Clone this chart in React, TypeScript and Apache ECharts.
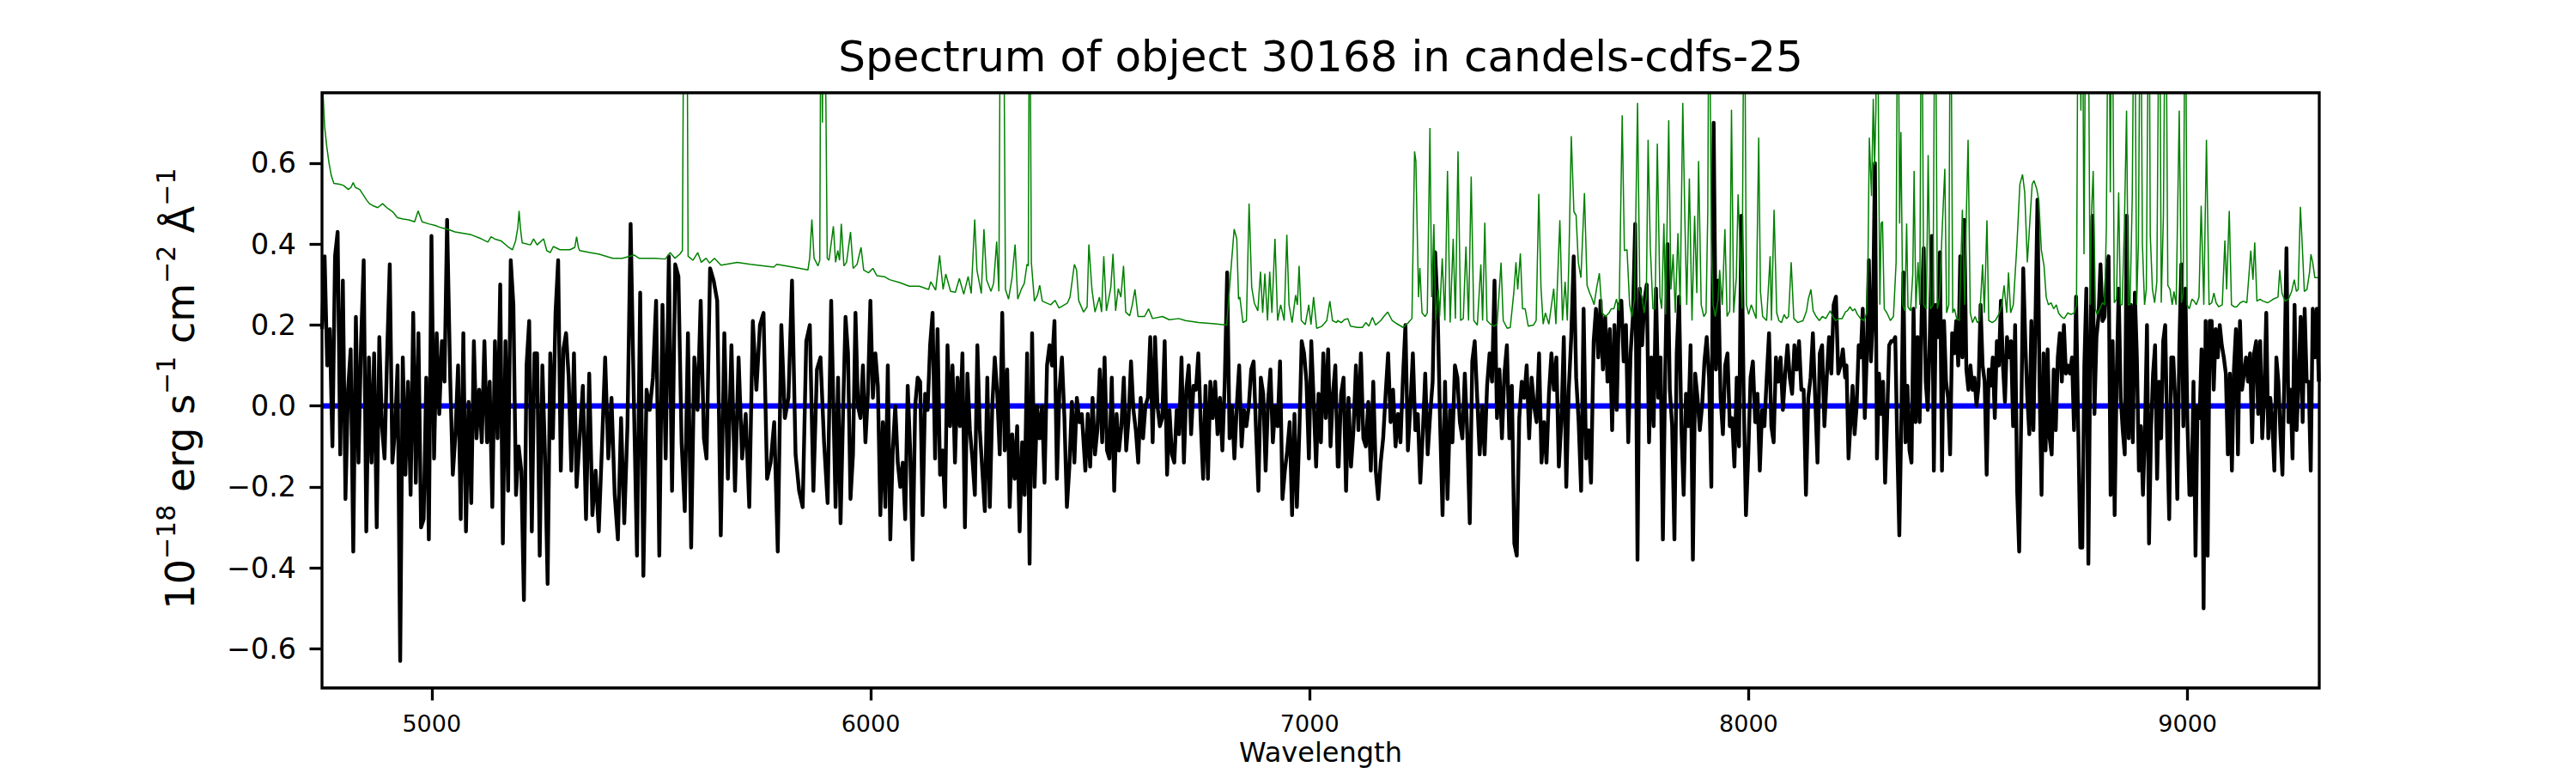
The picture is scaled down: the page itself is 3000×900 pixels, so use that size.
import React, { useEffect, useRef } from 'react';
import * as echarts from 'echarts';

const TITLE = 'Spectrum of object 30168 in candels-cdfs-25';
const X_LABEL = 'Wavelength';
const X_MIN = 4750;
const X_MAX = 9300;
const Y_MIN = -0.697;
const Y_MAX = 0.774;
const X_TICKS = [5000, 6000, 7000, 8000, 9000];
const Y_TICKS = [-0.6, -0.4, -0.2, 0, 0.2, 0.4, 0.6];

// Observed flux (black), read piecewise; each chunk spans [start, end] in Angstrom
const fluxA1 = [0.19,0.37,0.10,0.19,-0.10,0.37,0.43,-0.12,0.31,-0.23,0.04,0.14,-0.36,0.22,-0.14,0.16,0.36,-0.31,0.12,-0.14,0.13,-0.30,0.17,-0.05,-0.13,0.13,0.35,-0.14,-0.06,0.10,-0.63,0.12,-0.17,0.06,-0.22,0.23,-0.19,0.18,-0.30,-0.28,0.07,-0.33,0.42,-0.13,0.18,-0.02,0.16,0.06,0.46];
const fluxA2 = [0.07,-0.17,-0.07,0.10,-0.28,0.18,-0.31,0.01,-0.24,0.16,-0.08,0.04,-0.09,0.16,-0.09,0.06,-0.25,0.16,-0.08,0.30,-0.34,0.16,-0.21,0.36,0.25,-0.22,-0.10,-0.16,-0.48,0.10,0.21,-0.31,0.13,0.13,-0.37,0.10,-0.12,-0.44,0.13,-0.08,0.23,0.36,-0.16,0.14,0.18,0.07,-0.16,0.13,-0.20];
const fluxA3 = [-0.08,0.05,-0.28,0.08,-0.27,-0.16,-0.31,-0.10,0.12,-0.13,0.02,-0.22,-0.33,-0.03,-0.29,-0.05,0.45,0.02,-0.37,0.28,-0.42,0.04,-0.01,0.07,0.26,-0.37,0.25,-0.13,0.37,-0.21,0.35,0.32,-0.09,-0.26,0.18,-0.35,0.12,-0.01,0.26,-0.08];
const fluxA4 = [-0.13,0.34,0.31,0.26,-0.32,0.18,-0.18,0.15,-0.21,0.12,-0.13,-0.02,-0.25,0.21,0.04,0.20,0.23,-0.18,-0.14,-0.04,-0.36,0.20,-0.03,0.02,0.31,-0.12,-0.21,-0.25,0.16,0.20,-0.21,0.09,0.12,-0.09,-0.24,0.26];
const fluxB1 = [-0.25,0.07,-0.29,-0.02,0.22,0.13,-0.23,-0.12,0.23,0.00,-0.03,0.10,-0.09,0.03,0.26,0.02,0.13,0.05,-0.27,-0.04,-0.25,0.10,-0.33,-0.11,0.00,-0.14,-0.20,-0.14,-0.28,0.05,-0.11,-0.38,0.00,0.07,0.06,-0.27,0.03,-0.01,0.15,0.23,-0.13,0.19,-0.17,-0.11,-0.25,0.15,-0.05,0.10,-0.14,0.07,-0.05,0.13,-0.30,0.08,-0.06,-0.13,-0.22,0.15,-0.06,-0.16,-0.26,0.07,-0.25,0.00,0.12,0.03,-0.12,0.23,-0.11,0.09,-0.25,-0.07,-0.18,-0.05,-0.31,-0.09,-0.22,0.13,-0.39,0.18,-0.20,0.00,-0.08,0.00,-0.19,0.10,0.15,0.10,0.21,-0.18,0.04,0.12,-0.03,-0.25,-0.15,0.01,-0.14,0.02,-0.04,-0.02];
const fluxB2 = [-0.16,-0.02,-0.15,0.02,-0.12,-0.06,0.09,-0.09,0.12,-0.11,-0.13,0.07,-0.21,-0.02,-0.11,-0.05,0.07,-0.11,-0.03,0.11,-0.01,-0.06,-0.14,0.02,-0.08,0.00,0.02,0.17,-0.09,0.17,0.00,-0.05,-0.03,0.16,-0.17,-0.01,-0.12,-0.14,-0.01,-0.07,0.12,-0.14,0.04,0.10,-0.07,0.05,0.04,0.13,-0.04,-0.18,0.05,-0.18,0.06,-0.03,0.06,-0.07,0.02,-0.11,0.06,0.33,-0.08,0.00,-0.13,0.00,0.10,-0.10,-0.01,-0.05,0.00,0.09,0.11,-0.06,-0.21,0.07,0.03,-0.16,0.01,0.09,-0.09,0.00,-0.05,0.11,-0.23,-0.16,-0.11,-0.04,-0.27,-0.02,-0.25,-0.07,0.16,0.13,0.06,-0.13,0.16,0.01,-0.15,0.03,-0.09,0.13,-0.03,0.14,-0.10,0.03,0.10,-0.15];
const fluxC1 = [-0.15,0.03,0.07,-0.21,0.02,-0.15,-0.06,0.10,-0.06,0.13,-0.08,-0.10,0.01,-0.16,0.06,-0.16,-0.23,-0.14,-0.08,0.03,0.13,-0.04,0.04,-0.10,-0.02,-0.09,0.07,0.20,-0.11,0.00,0.13,-0.06,-0.02,-0.19,-0.07,0.08,-0.12,-0.02,0.06,0.38,0.24,-0.04,-0.27,0.06,-0.23,-0.01,-0.09,0.10,0.07,-0.04,-0.08,0.08,-0.07,-0.29,0.11,0.16,0.02,-0.12,0.00,-0.12,0.05,0.13,0.06,0.31,-0.03,0.09,-0.08,0.08,0.15,-0.08,0.05,-0.34,-0.37,-0.03,0.06,0.02,0.10,-0.08,0.07,0.00,-0.04,0.13,-0.14,-0.04,-0.14,0.03,0.13,0.04,0.12,-0.15,-0.04,0.17,-0.20,0.04,0.17,0.37,0.07,-0.04,-0.21,0.24,-0.13,-0.06,-0.19];
const fluxC2 = [0.16,0.24,0.12,0.26,0.09,0.22,0.06,0.19,-0.06,0.20,-0.01,0.25,0.26,0.11,0.20,-0.09,0.13,0.22,0.45,-0.38,0.29,0.15,0.26,0.30,-0.09,0.12,-0.05,0.29,0.02,0.12,-0.33,0.08,0.40,0.04,-0.05,-0.33,0.13,0.27,-0.05,-0.22,0.03,-0.05,0.15,-0.38,0.08,0.02,-0.06,0.00,0.11,0.17,0.07,-0.20,0.70,0.09,0.31,0.02,-0.07,0.10,0.13,-0.05,-0.03,-0.15,0.07,-0.10,0.47,0.03,-0.27,-0.12,0.07,0.11,-0.04,0.03,-0.16,-0.01,-0.05,0.07,0.18,-0.05,-0.09,0.12,0.06,0.12,-0.01,0.08,0.15,0.07,0.03,0.15,0.09,0.16,0.04,0.04,-0.22,0.02,0.07,0.18,0.02,-0.14,0.13,0.15,-0.05,0.07,0.17,0.08,0.25,0.27,0.08,0.10,0.14,0.07];
const fluxD1 = [0.10,-0.13,-0.04,0.05,-0.07,0.00,0.15,0.12,0.24,-0.03,0.13,0.36,0.11,0.22,0.60,-0.13,0.08,-0.02,0.06,-0.19,-0.03,0.15,0.16,0.16,0.17,-0.10,-0.32,-0.03,0.33,-0.09,0.05,-0.11,-0.14,0.24,-0.04,0.17,-0.04,0.23,0.39,0.06,-0.01,0.17,0.42,-0.16,0.25,0.17,0.38,-0.16,0.21,0.06,0.02,-0.12,0.18,0.13,0.21,0.10,0.37,0.12,0.46,0.09,0.04,0.10,0.04,0.07,0.00,0.05,0.25,0.10,0.06,-0.17,0.09,0.05,0.12,-0.03,0.16,0.10,0.26,0.10,0.01,0.17,0.12,0.16,-0.05,0.20,-0.21,-0.36,-0.03,0.34,0.16,0.02,-0.07,0.21,-0.06,0.21,0.51,0.06,-0.22,0.13,-0.11,0.14,-0.08,-0.12,0.09,-0.06,0.12,0.18,0.06,0.20,0.08,0.10,0.08,0.12,-0.06,0.27];
const fluxD2 = [-0.06,-0.35,-0.35,0.10,0.29,-0.39,0.16,0.47,-0.02,0.17,0.22,0.35,0.21,0.22,0.32,0.37,-0.22,0.16,-0.27,0.07,0.29,0.02,-0.06,-0.12,0.47,-0.08,0.25,-0.09,0.28,0.12,-0.16,-0.05,-0.22,-0.06,0.20,-0.34,-0.06,0.08,0.15,-0.18,0.06,-0.08,0.16,0.20,-0.07,-0.28,0.12,0.12,0.01,-0.23,0.15,0.35,-0.05,0.29,-0.04,-0.22,-0.22,0.06,-0.37,0.00,-0.03,0.14,-0.50,0.21,-0.37,0.21,0.21,0.04,0.19,0.12,0.20,0.15,0.12,0.08,-0.12,0.08,-0.16,0.09,0.19,-0.12,0.21,0.04,0.08,0.12,0.06,0.13,-0.09,0.13,0.16,-0.02,0.16,-0.08,0.02,0.23,-0.08,0.02,-0.04,-0.16,0.12,0.06,-0.07,-0.17,0.09,0.39,-0.04,0.04,-0.13,0.25,-0.06,0.06,0.22,-0.04,0.24,0.06,0.06,-0.16,0.24,0.12,0.24,0.06];

const fluxChunks: [number, number, number[]][] = [
  [4750, 5035, fluxA1],
  [5042, 5330, fluxA2],
  [5337, 5620, fluxA3],
  [5626, 5910, fluxA4],
  [5920, 6481, fluxB1],
  [6489, 7064, fluxB2],
  [7066, 7641, fluxC1],
  [7647, 8220, fluxC2],
  [8223, 8746, fluxD1],
  [8751, 9299, fluxD2],
];

// Sky / noise spectrum (green): [wavelength, value]
const skyA = [[4750,0.95],[4752.5,0.77],[4756,0.69],[4761,0.64],[4766,0.60],[4771,0.57],[4777,0.55],[4790,0.548],[4799,0.545],[4810,0.535],[4816,0.54],[4821,0.552],[4826,0.54],[4836,0.535],[4851,0.51],[4858,0.50],[4866,0.495],[4877,0.49],[4888,0.50],[4900,0.488],[4911,0.48],[4922,0.465],[4935,0.462],[4948,0.46],[4961,0.455],[4969,0.482],[4978,0.455],[4993,0.45],[5008,0.446],[5023,0.44],[5038,0.436],[5053,0.43],[5070,0.427],[5090,0.423],[5113,0.413],[5128,0.405],[5135,0.418],[5145,0.412],[5158,0.408],[5173,0.394],[5184,0.386],[5191,0.408],[5196,0.44],[5199,0.482],[5202,0.44],[5206,0.403],[5225,0.398],[5232,0.413],[5240,0.398],[5255,0.413],[5262,0.384],[5270,0.379],[5277,0.394],[5292,0.386],[5315,0.386],[5326,0.392],[5330,0.418],[5334,0.392],[5337,0.384],[5360,0.379],[5382,0.375],[5412,0.365],[5434,0.365],[5461,0.373],[5472,0.365],[5509,0.365],[5532,0.363],[5543,0.379],[5554,0.365],[5565,0.375],[5571,0.384],[5575,1.2],[5581,1.2],[5584,0.370],[5595,0.36],[5606,0.379],[5614,0.355],[5625,0.365],[5633,0.353],[5644,0.365],[5659,0.348],[5696,0.355],[5726,0.35],[5779,0.343],[5786,0.35],[5823,0.343],[5857,0.336],[5861,0.365],[5866,0.461],[5871,0.365],[5880,0.346],[5884,0.36],[5887,1.2],[5890,0.70],[5893,1.2],[5898,0.74],[5901,0.365]];
const skyB = [[5905,0.36],[5915,0.444],[5920,0.355],[5925,0.384],[5929,0.36],[5933,0.45],[5939,0.346],[5945,0.355],[5954,0.43],[5960,0.34],[5969,0.35],[5978,0.392],[5984,0.336],[5995,0.329],[6005,0.34],[6014,0.322],[6032,0.319],[6043,0.312],[6066,0.305],[6088,0.296],[6111,0.296],[6132,0.288],[6137,0.307],[6148,0.286],[6157,0.372],[6165,0.288],[6171,0.326],[6182,0.283],[6193,0.281],[6202,0.315],[6212,0.276],[6222,0.32],[6229,0.278],[6237,0.461],[6242,0.336],[6252,0.278],[6258,0.437],[6264,0.312],[6274,0.283],[6280,0.303],[6287,0.406],[6292,0.283],[6296,1.2],[6302,1.2],[6307,0.288],[6314,0.264],[6322,0.317],[6329,0.399],[6335,0.264],[6343,0.288],[6350,0.303],[6356,0.35],[6359,0.346],[6362,1.2],[6366,0.355],[6373,0.259],[6380,0.274],[6385,0.298],[6391,0.259],[6410,0.25],[6420,0.261],[6429,0.242],[6448,0.254],[6454,0.269],[6464,0.35],[6469,0.336],[6474,0.26],[6485,0.232],[6493,0.245],[6497,0.399],[6504,0.288],[6511,0.232],[6521,0.269],[6526,0.232],[6531,0.37],[6537,0.235],[6543,0.269],[6547,0.293],[6552,0.376],[6558,0.235],[6564,0.29],[6570,0.269],[6576,0.346],[6581,0.232],[6590,0.223],[6596,0.25],[6602,0.288],[6609,0.221],[6624,0.221],[6633,0.24],[6642,0.216],[6665,0.221],[6680,0.213],[6702,0.216],[6717,0.211],[6747,0.206],[6784,0.203],[6811,0.2],[6822,0.355],[6828,0.437],[6834,0.413],[6838,0.264],[6841,0.269],[6848,0.206],[6856,0.211],[6862,0.50],[6868,0.293],[6874,0.254],[6882,0.235],[6888,0.332],[6893,0.23],[6898,0.327],[6904,0.211],[6909,0.332],[6914,0.23],[6921,0.413],[6927,0.211],[6934,0.25],[6942,0.211],[6948,0.423],[6953,0.25],[6960,0.206],[6968,0.274],[6972,0.25],[6976,0.346],[6981,0.211],[6990,0.201],[6998,0.25],[7003,0.201],[7009,0.269],[7016,0.192],[7028,0.197],[7039,0.211],[7046,0.259],[7052,0.211],[7061,0.206]];
const skyC = [[7064,0.211],[7072,0.206],[7079,0.213],[7087,0.216],[7093,0.197],[7109,0.194],[7120,0.194],[7128,0.206],[7135,0.197],[7143,0.219],[7150,0.2],[7162,0.211],[7169,0.221],[7178,0.232],[7188,0.211],[7199,0.203],[7213,0.194],[7225,0.206],[7233,0.216],[7239,0.629],[7242,0.605],[7248,0.269],[7251,0.341],[7256,0.23],[7263,0.221],[7268,0.23],[7274,0.687],[7278,0.269],[7283,0.449],[7287,0.211],[7293,0.288],[7296,0.221],[7302,0.365],[7308,0.211],[7314,0.581],[7320,0.206],[7327,0.413],[7332,0.216],[7338,0.629],[7344,0.211],[7350,0.216],[7356,0.394],[7362,0.211],[7368,0.567],[7374,0.211],[7382,0.2],[7390,0.35],[7394,0.211],[7399,0.453],[7404,0.211],[7412,0.202],[7420,0.197],[7427,0.202],[7436,0.354],[7441,0.211],[7450,0.192],[7457,0.194],[7465,0.279],[7470,0.355],[7474,0.288],[7480,0.377],[7485,0.24],[7491,0.24],[7498,0.197],[7510,0.2],[7516,0.211],[7522,0.524],[7527,0.293],[7532,0.202],[7537,0.23],[7545,0.202],[7556,0.29],[7561,0.202],[7570,0.459],[7576,0.211],[7582,0.307],[7587,0.211],[7591,0.384],[7596,0.667],[7602,0.48],[7607,0.471],[7612,0.355],[7618,0.317],[7626,0.526],[7632,0.298],[7638,0.279],[7642,0.269],[7648,0.25],[7654,0.293],[7660,0.328],[7666,0.23],[7674,0.221],[7682,0.23],[7687,0.24],[7693,0.24],[7699,0.264],[7705,0.235],[7712,0.718],[7717,0.384],[7723,0.386],[7729,0.25],[7734,0.221],[7740,0.264],[7747,0.749],[7752,0.288],[7757,0.269],[7762,0.23],[7767,0.269],[7771,0.658],[7776,0.394],[7782,0.24],[7787,0.24],[7792,0.648],[7798,0.269],[7802,0.24],[7807,0.451],[7811,0.226],[7818,0.706],[7823,0.288],[7828,0.375],[7833,0.23],[7839,0.427],[7844,0.25],[7850,0.749],[7855,0.451],[7859,0.25],[7865,0.562],[7871,0.211],[7877,0.47],[7882,0.279],[7886,0.605],[7892,0.25],[7898,0.221],[7903,0.23],[7907,0.48],[7910,1.2],[7915,0.413],[7919,0.25],[7924,0.221],[7930,0.259],[7934,0.336],[7940,0.25],[7946,0.437],[7951,0.221],[7957,0.235],[7961,0.732],[7966,0.23],[7972,0.317],[7976,0.523],[7981,0.375],[7985,0.24],[7990,1.2],[7995,0.25],[8000,0.226],[8006,0.25],[8011,0.235],[8017,0.216],[8023,0.663],[8027,0.283],[8032,0.221],[8041,0.211],[8049,0.37],[8052,0.211],[8058,0.485],[8064,0.23],[8069,0.211],[8075,0.206],[8081,0.226],[8086,0.216],[8091,0.221],[8097,0.355],[8103,0.216],[8112,0.206],[8124,0.211],[8132,0.235],[8136,0.264],[8142,0.288],[8147,0.235],[8154,0.221],[8161,0.211],[8168,0.221],[8176,0.216],[8181,0.226],[8186,0.235],[8191,0.223],[8198,0.211],[8206,0.216],[8213,0.216],[8221,0.233]];
const skyD = [[8225,0.235],[8231,0.245],[8237,0.235],[8242,0.24],[8248,0.226],[8255,0.216],[8263,0.211],[8269,0.23],[8272,0.365],[8275,0.663],[8280,0.519],[8284,0.759],[8287,0.596],[8290,0.73],[8293,1.2],[8296,0.672],[8299,0.25],[8302,0.451],[8305,0.456],[8309,0.24],[8315,0.23],[8323,0.211],[8330,0.221],[8336,0.355],[8340,1.2],[8344,0.451],[8347,0.677],[8351,0.25],[8356,0.235],[8360,0.451],[8363,0.245],[8369,0.235],[8374,0.326],[8377,0.581],[8381,0.24],[8386,0.355],[8390,0.25],[8394,1.2],[8399,0.25],[8405,0.24],[8409,0.62],[8414,0.24],[8420,0.25],[8425,1.2],[8430,0.24],[8435,0.269],[8441,0.437],[8447,0.586],[8451,0.23],[8456,0.25],[8460,1.2],[8465,0.23],[8469,0.24],[8474,0.216],[8480,0.211],[8487,0.485],[8492,0.25],[8496,0.47],[8500,0.658],[8505,0.23],[8510,0.206],[8516,0.221],[8521,0.206],[8526,0.211],[8533,0.35],[8537,0.23],[8543,0.459],[8547,0.211],[8555,0.206],[8562,0.211],[8570,0.226],[8577,0.25],[8582,0.298],[8588,0.23],[8592,0.33],[8597,0.23],[8603,0.25],[8611,0.394],[8618,0.548],[8624,0.572],[8629,0.528],[8635,0.355],[8641,0.461],[8646,0.548],[8650,0.557],[8656,0.538],[8661,0.509],[8667,0.384],[8673,0.346],[8678,0.269],[8683,0.25],[8689,0.255],[8695,0.24],[8701,0.25],[8706,0.23],[8712,0.221],[8719,0.216],[8727,0.23],[8734,0.226],[8742,0.23],[8747,0.25],[8751,1.2],[8757,0.73],[8760,1.2],[8764,0.375],[8769,1.2],[8773,1.2],[8778,0.25],[8781,0.471],[8785,0.581],[8790,0.24],[8794,0.226],[8800,0.24],[8806,0.255],[8811,0.25],[8815,0.442],[8820,1.2],[8824,0.528],[8828,1.2],[8833,0.255],[8838,0.264],[8843,0.528],[8847,0.25],[8851,0.25],[8856,0.442],[8861,0.73],[8865,0.25],[8869,0.25],[8874,0.519],[8879,1.2],[8884,0.25],[8888,0.403],[8893,1.2],[8897,0.403],[8902,0.25],[8906,0.288],[8912,1.2],[8915,0.423],[8920,0.288],[8925,0.255],[8930,0.307],[8936,1.2],[8940,0.255],[8945,0.471],[8950,1.2],[8955,0.298],[8960,0.288],[8965,0.25],[8969,0.283],[8974,0.25],[8981,0.73],[8986,0.255],[8990,0.279],[8995,1.2],[8999,0.25],[9004,0.24],[9010,0.264],[9015,0.259],[9020,0.25],[9026,0.269],[9031,0.495],[9037,0.25],[9043,0.658],[9049,0.25],[9055,0.255],[9060,0.279],[9065,0.255],[9071,0.245],[9079,0.25],[9085,0.409],[9089,0.288],[9095,0.482],[9100,0.25],[9106,0.245],[9112,0.245],[9120,0.255],[9127,0.259],[9135,0.255],[9140,0.326],[9144,0.384],[9149,0.312],[9153,0.404],[9158,0.259],[9165,0.264],[9172,0.259],[9183,0.255],[9195,0.264],[9206,0.269],[9210,0.336],[9215,0.279],[9222,0.259],[9230,0.264],[9237,0.283],[9243,0.312],[9248,0.283],[9252,0.288],[9257,0.492],[9261,0.403],[9266,0.283],[9272,0.288],[9278,0.331],[9281,0.375],[9285,0.355],[9290,0.317],[9300,0.317]];

// Model / zero level (blue)
const modelWave = [4750, 9300];
const modelFlux = [0, 0];

const FONT = 'DejaVu Sans';

function buildFlux(): number[][] {
  const out: number[][] = [];
  for (const [start, end, vals] of fluxChunks) {
    const n = vals.length;
    const step = (end - start) / (n - 1);
    vals.forEach((v, i) => out.push([start + i * step, v]));
  }
  return out;
}

function fmtY(v: number): string {
  const s = Math.abs(v).toFixed(1);
  return v < -1e-9 ? '\u2212' + s : s;
}

export default function App() {
  const ref = useRef<HTMLDivElement>(null);
  useEffect(() => {
    document.body.style.margin = '0';
    if (!ref.current) return;
    const chart = echarts.init(ref.current, null, { renderer: 'svg' });
    const gridL = 375, gridT = 108, gridW = 2326, gridH = 693;
    const option: any = {
      animation: false,
      backgroundColor: '#ffffff',
      grid: { left: gridL, top: gridT, width: gridW, height: gridH, show: false },
      xAxis: {
        type: 'value', min: X_MIN, max: X_MAX,
        axisLine: { show: false, onZero: false },
        splitLine: { show: false },
        axisTick: { show: true, customValues: X_TICKS, length: 14.5, lineStyle: { color: '#000', width: 3.3 } },
        axisLabel: { customValues: X_TICKS, margin: 28, fontSize: 27, color: '#000', fontFamily: FONT, formatter: (v: number) => String(v) },
      },
      yAxis: {
        type: 'value', min: Y_MIN, max: Y_MAX,
        axisLine: { show: false, onZero: false },
        splitLine: { show: false },
        axisTick: { show: true, customValues: Y_TICKS, length: 14.5, lineStyle: { color: '#000', width: 3.3 } },
        axisLabel: { customValues: Y_TICKS, margin: 30, fontSize: 33.3, color: '#000', fontFamily: FONT, formatter: (v: number) => fmtY(v) },
      },
      series: [
        {
          type: 'line', name: 'model', showSymbol: false, symbol: 'none',
          data: modelWave.map((w, i) => [w, modelFlux[i]]),
          lineStyle: { color: '#0000ff', width: 6.25 }, itemStyle: { color: '#0000ff' },
        },
        {
          type: 'line', name: 'flux', showSymbol: false, symbol: 'none',
          data: buildFlux(),
          lineStyle: { color: '#000000', width: 4.4, join: 'round' }, itemStyle: { color: '#000' },
        },
        {
          type: 'line', name: 'sky', showSymbol: false, symbol: 'none',
          data: [...skyA, ...skyB, ...skyC, ...skyD],
          lineStyle: { color: '#008000', width: 1.5 }, itemStyle: { color: '#008000' },
        },
      ],
      graphic: [
        {
          type: 'rect', z: 100, silent: true,
          shape: { x: gridL, y: gridT, width: gridW, height: gridH },
          style: { fill: 'none', stroke: '#000', lineWidth: 3.3 },
        },
        {
          type: 'text', x: gridL + gridW / 2, y: 66,
          style: { text: TITLE, fontSize: 50, fontFamily: FONT, fill: '#000', align: 'center', verticalAlign: 'middle' },
        },
        {
          type: 'text', x: gridL + gridW / 2, y: 876,
          style: { text: X_LABEL, fontSize: 32, fontFamily: FONT, fill: '#000', align: 'center', verticalAlign: 'middle' },
        },
        {
          type: 'text', x: 210, y: 452.5, rotation: Math.PI / 2,
          style: {
            text: '{m|10}{s|\u221218}{m|\u00a0erg\u00a0s}{s|\u22121}{m|\u00a0cm}{s|\u22122}{m|\u00a0\u00c5}{s|\u22121}',
            align: 'center', verticalAlign: 'middle',
            rich: {
              m: { fontSize: 46, fontFamily: FONT, lineHeight: 64, fill: '#000' },
              s: { fontSize: 30, fontFamily: FONT, lineHeight: 30, verticalAlign: 'top', fill: '#000' },
            },
          },
        },
      ],
    };
    chart.setOption(option);
    return () => chart.dispose();
  }, []);
  return <div ref={ref} style={{ width: 3000, height: 900 }} />;
}
